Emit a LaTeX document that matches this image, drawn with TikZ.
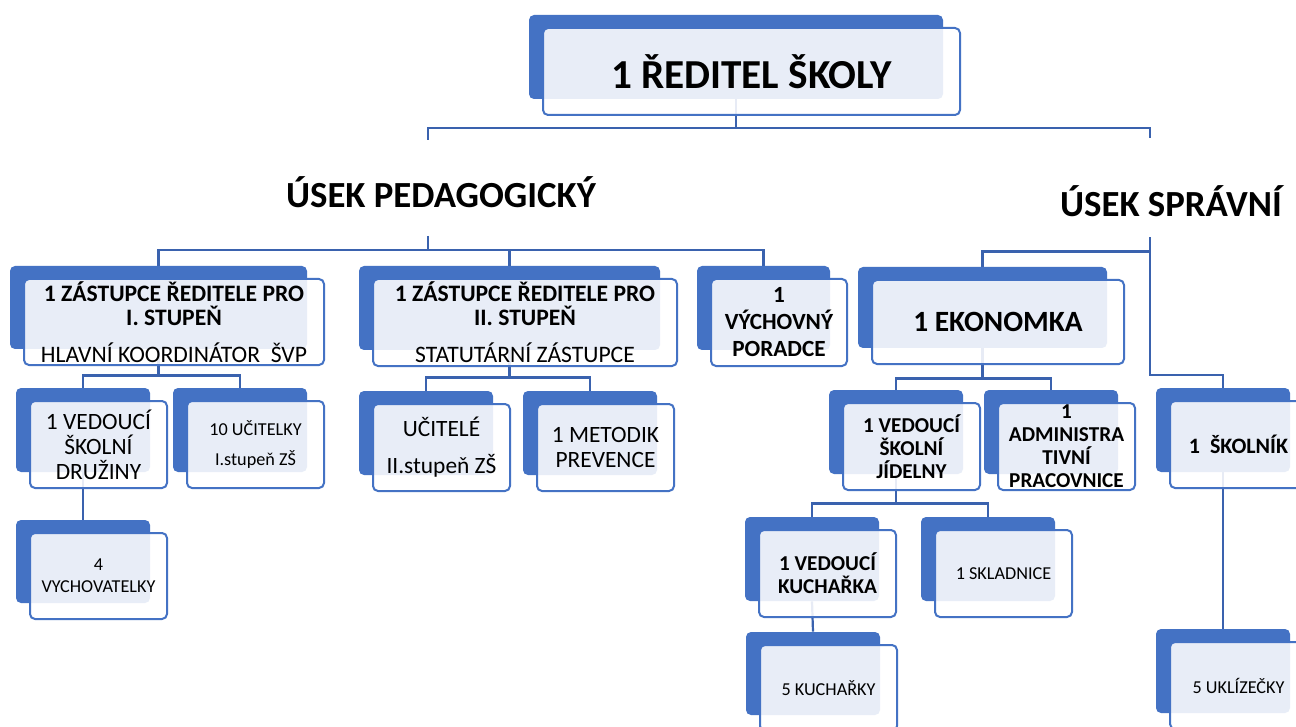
\documentclass[tikz,border=0pt]{standalone}
\usepackage{fontspec}
\setmainfont{Carlito}
\usetikzlibrary{backgrounds}

\definecolor{unitblue}{HTML}{4472C4}
\definecolor{linkblue}{HTML}{3A62AE}

% one unit: blue back plate and a light front plate with the text
\newcommand{\orgbox}[7][]{%
  \node[backbox, minimum width=#5*0.5pt, minimum height=#6*0.5pt] (#2) at ({#3+#5/2},{#4+#6/2}) {};
  \node[frontbox, minimum width=(#5+3)*0.5pt, minimum height=(#6+3)*0.5pt, #1] (#2-t) at ([shift={(15.5,14.5)}]#2.center) {#7};
}

\tikzset{
  backbox/.style={fill=unitblue, rounded corners=2.5pt, inner sep=0pt},
  frontbox/.style={draw=unitblue, line width=1pt, fill=white, fill opacity=0.88, text opacity=1,
    rounded corners=2.5pt, inner sep=0pt, align=center},
  conn/.style={draw=linkblue, line width=1.1pt},
  head/.style={font=\fontsize{18.4}{22}\selectfont\bfseries, inner sep=0pt},
  fdir/.style={font=\fontsize{20.6}{24}\selectfont\bfseries},
  fzr/.style={font=\fontsize{11.8}{12}\selectfont},
  fvp/.style={font=\fontsize{11.6}{13.5}\selectfont\bfseries},
  feko/.style={font=\fontsize{14.7}{17}\selectfont\bfseries},
  fmid/.style={font=\fontsize{11.7}{12.5}\selectfont},
  fsmall/.style={font=\fontsize{9.1}{11}\selectfont},
  fbold/.style={font=\fontsize{10.6}{11.5}\selectfont\bfseries},
}

\begin{document}
\begin{tikzpicture}[x=0.5pt, y=-0.5pt]

\useasboundingbox (0,0) rectangle (1296,727);
\clip (0,0) rectangle (1296,727);

% top
\orgbox[fdir]{dir}{529}{15}{414}{84}{1 ŘEDITEL ŠKOLY}

\node[head, anchor=base] (ped) at (441,208) {ÚSEK PEDAGOGICKÝ};
\node[head, anchor=base] (spr) at (1171,217) {ÚSEK SPRÁVNÍ};
\coordinate (ped-in) at (428,140);
\coordinate (ped-out) at (428,236);
\coordinate (spr-in) at (1150,138);
\coordinate (spr-out) at (1150,237);

% pedagogic part
\orgbox[fzr]{zr1}{10}{266}{297}{83}{\textbf{1 ZÁSTUPCE ŘEDITELE PRO}\\\textbf{I. STUPEŇ}\\[6.5pt]HLAVNÍ KOORDINÁTOR\ \ ŠVP}
\orgbox[fzr]{zr2}{359}{266}{301}{84}{\textbf{1 ZÁSTUPCE ŘEDITELE PRO}\\\textbf{II. STUPEŇ}\\[6.5pt]STATUTÁRNÍ ZÁSTUPCE}
\orgbox[fvp]{vp}{697}{266}{133}{84}{1\\VÝCHOVNÝ\\PORADCE}

\orgbox[fmid]{vsd}{16}{388}{134}{84}{1 VEDOUCÍ\\ŠKOLNÍ\\DRUŽINY}
\orgbox[fsmall]{uc1}{173}{388}{134}{84}{10 UČITELKY\\[4pt]I.stupeň ZŠ}
\orgbox[fsmall]{vych}{16}{520}{134}{83}{4\\VYCHOVATELKY}
\orgbox[fmid]{ucit}{359}{391}{134}{84}{UČITELÉ\\[6pt]II.stupeň ZŠ}
\orgbox[fmid]{met}{523}{391}{134}{84}{1 METODIK\\PREVENCE}

% administration part
\orgbox[feko]{eko}{858}{267}{249}{81}{1 EKONOMKA}
\orgbox[fbold]{vsj}{829}{390}{134}{84}{1 VEDOUCÍ\\ŠKOLNÍ\\JÍDELNY}
\orgbox[fbold]{adm}{984}{390}{134}{84}{1\\ADMINISTRA\\TIVNÍ\\PRACOVNICE}
\orgbox[fbold]{kuch}{745}{517}{134}{84}{1 VEDOUCÍ\\KUCHAŘKA}
\orgbox[fsmall]{skl}{921}{517}{134}{84}{1 SKLADNICE}
\orgbox[fsmall]{kuchy}{746}{632}{134}{83}{5 KUCHAŘKY}
\orgbox[fbold, font=\fontsize{11}{12}\selectfont\bfseries]{skol}{1156}{388}{134}{84}{1\ \ ŠKOLNÍK}
\orgbox[fsmall]{ukl}{1156}{629}{134}{84}{5 UKLÍZEČKY}

% connectors behind the plates
\begin{scope}[on background layer]
\fill[white] (0,0) rectangle (1296,727);
\draw[conn] (dir.south) -- ++(0,29) coordinate (b-dir);
\draw[conn] (ped-in) |- (b-dir) -| (spr-in);
\draw[conn] (ped-out) -- ++(0,14) coordinate (b-ped);
\draw[conn] (zr1.north) |- (b-ped) -| (vp.north);
\draw[conn] (zr2.north) -- (zr2.north |- b-ped);
\draw[conn] (eko.north) -- ++(0,-15) -| (spr-out);
\draw[conn] (skol.north) -- ++(0,-13) -| (spr-out);
\draw[conn] (zr1.south) -- ++(0,26) coordinate (b-zr1);
\draw[conn] (vsd.north) |- (b-zr1) -| (uc1.north);
\draw[conn] (vsd.south) -- (vych.north);
\draw[conn] (zr2.south) -- ++(0,27) coordinate (b-zr2);
\draw[conn] (ucit.north) |- (b-zr2) -| (met.north);
\draw[conn] (eko.south) -- ++(0,30) coordinate (b-eko);
\draw[conn] (vsj.north) |- (b-eko) -| (adm.north);
\draw[conn] (vsj.south) -- ++(0,29) coordinate (b-vsj);
\draw[conn] (kuch.north) |- (b-vsj) -| (skl.north);
\draw[conn] (kuch.south) -- (kuchy.north);
\draw[conn] (skol.south) -- (ukl.north);
\end{scope}

\end{tikzpicture}
\end{document}
